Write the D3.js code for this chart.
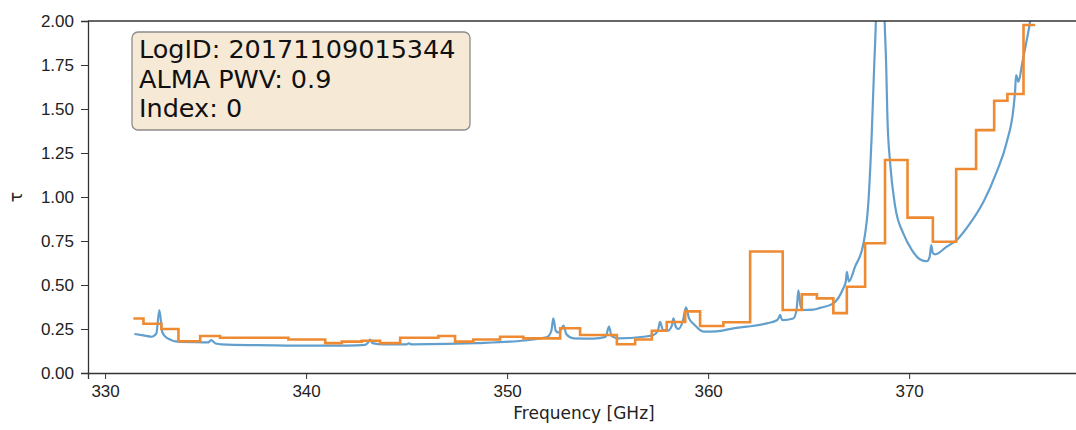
<!DOCTYPE html>
<html>
<head>
<meta charset="utf-8">
<script src="https://cdn.jsdelivr.net/npm/d3@7"></script>
<style>
  body { margin: 0; background: #fff; }
  svg { display: block; font-family: "DejaVu Sans", sans-serif; }
  .axis text { font-size: 17px; fill: #222; }
  .axis path, .axis line { stroke: #333; }
</style>
</head>
<body>
<div id="chart"></div>
<script>
// orange: binned tau, step edges (GHz) and bin values
var stepEdges = [331.41, 331.91, 332.8, 333.65, 334.73, 335.72, 339.12, 340.95, 341.78, 342.77,
  343.68, 344.68, 346.58, 347.41, 348.32, 349.65, 350.81, 352.64, 353.63, 355.46,
  356.37, 357.2, 357.94, 358.86, 359.6, 360.76, 362.09, 363.71, 364.66, 365.41,
  366.23, 366.9, 367.81, 368.8, 369.92, 371.18, 372.34, 373.33, 374.23, 374.89,
  375.69, 376.27];
var stepTau = [0.31, 0.28, 0.25, 0.18, 0.21, 0.20, 0.19, 0.17, 0.178, 0.183,
  0.17, 0.20, 0.21, 0.178, 0.19, 0.206, 0.197, 0.254, 0.216, 0.163,
  0.19, 0.24, 0.29, 0.35, 0.267, 0.288, 0.69, 0.358, 0.447, 0.424,
  0.34, 0.49, 0.737, 1.21, 0.883, 0.746, 1.159, 1.38, 1.547, 1.585,
  1.977];

// blue: model tau spectrum
var freq = [331.46, 331.9, 332.32, 332.55, 332.7, 332.85, 333.07, 333.65, 334.5, 335.14,
  335.27, 335.5, 335.8, 337.5, 339.0, 340.95, 342.0, 342.94, 343.1, 343.18,
  343.3, 343.85, 345.0, 345.1, 345.25, 347.0, 348.5, 350.15, 351.0, 351.64,
  352.0, 352.2, 352.3, 352.42, 352.55, 352.7, 352.8, 352.95, 353.3, 354.3,
  354.9, 355.07, 355.2, 355.54, 356.78, 357.28, 357.5, 357.61, 357.75, 358.0,
  358.2, 358.27, 358.4, 358.52, 358.75, 358.9, 359.05, 359.27, 359.77, 360.43,
  361.26, 361.93, 362.92, 363.42, 363.52, 363.58, 363.68, 364.24, 364.4, 364.49,
  364.6, 364.74, 365.24, 365.57, 366.23, 366.72, 366.85, 366.9, 367.0, 367.31,
  367.73, 367.98, 368.14, 368.26, 368.36, 368.45, 368.55, 368.65, 368.76, 368.86,
  368.92, 369.05, 369.3, 369.72, 370.13, 370.55, 370.88, 371.02, 371.1, 371.18,
  371.29, 371.87, 372.37, 373.03, 373.7, 374.36, 374.86, 375.19, 375.27, 375.32,
  375.44, 375.61, 375.77, 375.99, 376.05];
var tau = [0.222, 0.214, 0.206, 0.225, 0.358, 0.23, 0.2, 0.178, 0.175, 0.174,
  0.187, 0.168, 0.163, 0.158, 0.156, 0.155, 0.156, 0.16, 0.175, 0.19,
  0.17, 0.163, 0.163, 0.168, 0.163, 0.165, 0.17, 0.178, 0.186, 0.197,
  0.205, 0.24, 0.31, 0.24, 0.23, 0.25, 0.27, 0.22, 0.197, 0.195,
  0.205, 0.263, 0.21, 0.197, 0.206, 0.216, 0.24, 0.29, 0.245, 0.24,
  0.27, 0.31, 0.26, 0.25, 0.3, 0.373, 0.31, 0.28, 0.235, 0.237,
  0.254, 0.263, 0.282, 0.30, 0.315, 0.33, 0.3, 0.31, 0.36, 0.47,
  0.38, 0.358, 0.36, 0.37, 0.396, 0.48, 0.52, 0.575, 0.52, 0.604,
  0.737, 0.983, 1.36, 1.74, 2.1, 3.0, 4.0, 3.0, 2.1, 1.74,
  1.45, 1.2, 0.95, 0.79, 0.70, 0.645, 0.635, 0.66, 0.727, 0.68,
  0.674, 0.718, 0.756, 0.85, 0.973, 1.144, 1.314, 1.504, 1.6, 1.693,
  1.655, 1.75, 1.845, 1.977, 2.02];

var yTicks = [0, 0.25, 0.5, 0.75, 1.0, 1.25, 1.5, 1.75, 2.0];
var xTicks = [330, 340, 350, 360, 370];
var infoLines = ["LogID: 20171109015344", "ALMA PWV: 0.9", "Index: 0"];

var width = 1076, height = 430;
var margin = {top: 21, right: -4, bottom: 57, left: 88};

var svg = d3.select("#chart").append("svg")
  .attr("width", width)
  .attr("height", height);

var x = d3.scaleLinear().domain([329.15, 378.5]).range([margin.left, width - margin.right]);
var y = d3.scaleLinear().domain([0, 2]).range([height - margin.bottom, margin.top]);

svg.append("clipPath").attr("id", "plotclip")
  .append("rect")
  .attr("x", margin.left).attr("y", margin.top)
  .attr("width", width - margin.right - margin.left)
  .attr("height", height - margin.bottom - margin.top);

var plot = svg.append("g").attr("clip-path", "url(#plotclip)");

var bluePts = freq.map(function(f, i) { return [f, tau[i]]; });
var line = d3.line()
  .x(function(d) { return x(d[0]); })
  .y(function(d) { return y(d[1]); })
  .curve(d3.curveMonotoneX);

plot.append("path")
  .datum(bluePts)
  .attr("fill", "none")
  .attr("stroke", "#639fcc")
  .attr("stroke-width", 2.2)
  .attr("d", line);

var stepPts = stepEdges.map(function(e, i) {
  return [e, i < stepTau.length ? stepTau[i] : stepTau[stepTau.length - 1]];
});
var stepLine = d3.line()
  .x(function(d) { return x(d[0]); })
  .y(function(d) { return y(d[1]); })
  .curve(d3.curveStepAfter);

plot.append("path")
  .datum(stepPts)
  .attr("fill", "none")
  .attr("stroke", "#ee8a32")
  .attr("stroke-width", 2.6)
  .attr("d", stepLine);

// axes
var xAxis = svg.append("g")
  .attr("class", "axis")
  .attr("transform", "translate(0," + (height - margin.bottom) + ")")
  .call(d3.axisBottom(x).tickValues(xTicks).tickSizeOuter(0).tickSize(6).tickPadding(6));
var yAxis = svg.append("g")
  .attr("class", "axis")
  .attr("transform", "translate(" + margin.left + ",0)")
  .call(d3.axisLeft(y).tickValues(yTicks).tickFormat(d3.format(".2f")).tickSizeOuter(0).tickSize(7).tickPadding(7));
svg.selectAll(".axis .domain").attr("stroke-width", 1.3);

// top spine
svg.append("line")
  .attr("x1", margin.left).attr("x2", width)
  .attr("y1", margin.top).attr("y2", margin.top)
  .attr("stroke", "#333").attr("stroke-width", 1.3);

svg.append("text")
  .attr("x", (margin.left + width - margin.right) / 2)
  .attr("y", 419)
  .attr("text-anchor", "middle")
  .attr("font-size", 17)
  .attr("fill", "#222")
  .text("Frequency [GHz]");

svg.append("text")
  .attr("transform", "translate(22," + ((margin.top + height - margin.bottom) / 2) + ") rotate(-90)")
  .attr("text-anchor", "middle")
  .attr("font-size", 17)
  .attr("fill", "#222")
  .text("τ");

// info box
var info = svg.append("g");
info.append("rect")
  .attr("x", 132).attr("y", 32)
  .attr("width", 338).attr("height", 98)
  .attr("rx", 6)
  .attr("fill", "#f6e9d5")
  .attr("stroke", "#8c8c8c")
  .attr("stroke-width", 1.3);
info.selectAll("text")
  .data(infoLines)
  .enter().append("text")
  .attr("x", 139)
  .attr("y", function(d, i) { return 58 + i * 29.5; })
  .attr("font-size", 25.5)
  .attr("fill", "#111")
  .text(function(d) { return d; });
</script>
</body>
</html>
